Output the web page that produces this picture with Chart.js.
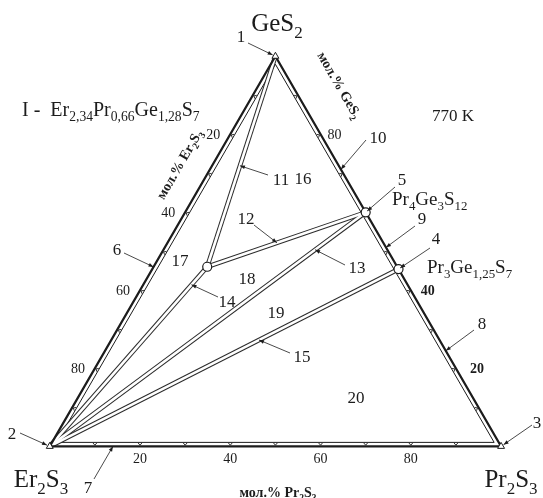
<!DOCTYPE html>
<html>
<head>
<meta charset="utf-8">
<script src="https://cdn.jsdelivr.net/npm/chart.js@4/dist/chart.umd.min.js"></script>
<style>
  html, body { margin: 0; padding: 0; background: #fff; }
  canvas { display: block; }
</style>
</head>
<body>
<canvas id="c" width="543" height="498"></canvas>
<script>
// Er2S3 – Pr2S3 – GeS2 isothermal section at 770 K (mole fractions)
const phaseNames = ['GeS2', 'Er2S3', 'Pr2S3', 'Pr4Ge3S12', 'Pr3Ge1,25S7', 'I'];
const molEr2S3 = [0, 1, 0, 0,   0,      0.4209];
const molPr2S3 = [0, 0, 1, 0.4, 0.5455, 0.1187];
const molGeS2  = [1, 0, 0, 0.6, 0.4545, 0.4604];

// tie lines as pairs of phase indices
const tieFrom = [0, 5, 1, 1, 1];
const tieTo   = [5, 3, 3, 5, 4];

// grid marks every 10 mol.% on each side, labelled values
const gridMarks    = [10, 20, 30, 40, 50, 60, 70, 80, 90];
const erTickLabels = [20, 40, 60, 80];
const geTickLabels = [80, 40, 20];
const prTickLabels = [20, 40, 60, 80];

// ternary -> cartesian (unit-side equilateral triangle)
const S3 = Math.sqrt(3) / 2;
const tx = (pr, ge) => pr + ge / 2;
const ty = ge => ge * S3;
const phasePt = i => ({ x: tx(molPr2S3[i], molGeS2[i]), y: ty(molGeS2[i]) });

const INK = '#1c1c1c';
const SERIF = '"Liberation Serif", "Times New Roman", serif';

const datasets = [];
// outer boundary of the triangle
datasets.push({
  data: [phasePt(1), phasePt(2), phasePt(0), phasePt(1)],
  showLine: true, borderColor: INK, borderWidth: 2.2, pointRadius: 0, order: 2
});
// tie lines, drawn as double lines (dark stroke with a white core)
tieFrom.forEach((a, k) => {
  const d = [phasePt(a), phasePt(tieTo[k])];
  datasets.push({ data: d, showLine: true, borderColor: '#2b2b2b', borderWidth: 4.6, pointRadius: 0, order: 5 });
  datasets.push({ data: d, showLine: true, borderColor: '#ffffff', borderWidth: 2.6, pointRadius: 0, order: 4 });
});
// binary end members
datasets.push({
  data: [phasePt(0), phasePt(1), phasePt(2)],
  showLine: false, pointStyle: 'triangle', pointRadius: 4,
  backgroundColor: '#fff', borderColor: INK, borderWidth: 1, order: 0
});
// ternary / binary compounds
datasets.push({
  data: [phasePt(3), phasePt(4), phasePt(5)],
  showLine: false, pointStyle: 'circle', pointRadius: 4.5,
  backgroundColor: '#fff', borderColor: INK, borderWidth: 1.2, order: 0
});

// text helpers: digits following a letter are set as subscripts
function splitRuns(text) {
  const runs = [];
  let i = 0;
  const isSubStart = j => /[0-9]/.test(text[j]) && j > 0 && /[A-Za-z]/.test(text[j - 1]);
  while (i < text.length) {
    if (isSubStart(i)) {
      let j = i;
      while (j < text.length && (/[0-9]/.test(text[j]) || (text[j] === ',' && /[0-9]/.test(text[j + 1] || '')))) j++;
      runs.push({ t: text.slice(i, j), sub: true });
      i = j;
    } else {
      let j = i + 1;
      while (j < text.length && !isSubStart(j)) j++;
      runs.push({ t: text.slice(i, j), sub: false });
      i = j;
    }
  }
  return runs;
}
function drawRich(ctx, text, x, y, size, align, weight) {
  const runs = splitRuns(text);
  const w = weight || 'normal';
  const subSize = size * 0.68;
  let total = 0;
  runs.forEach(r => {
    ctx.font = `${w} ${r.sub ? subSize : size}px ${SERIF}`;
    r.w = ctx.measureText(r.t).width;
    total += r.w;
  });
  let cx = align === 'center' ? x - total / 2 : align === 'right' ? x - total : x;
  ctx.textAlign = 'left';
  ctx.textBaseline = 'alphabetic';
  runs.forEach(r => {
    ctx.font = `${w} ${r.sub ? subSize : size}px ${SERIF}`;
    ctx.fillText(r.t, cx, r.sub ? y + size * 0.26 : y);
    cx += r.w;
  });
}

// callouts: label centre, leader start, and what the leader points at
const callouts = [
  { n: '1',  lx: 241, ly: 36,  sx: 248, sy: 43,  phase: 0, gap: 3 },
  { n: '2',  lx: 12,  ly: 433, sx: 20,  sy: 433, phase: 1, gap: 3 },
  { n: '3',  lx: 537, ly: 422, sx: 532, sy: 425, phase: 2, gap: 3 },
  { n: '4',  lx: 436, ly: 238, sx: 430, sy: 248, phase: 4, gap: 2 },
  { n: '5',  lx: 402, ly: 179, sx: 395, sy: 187, phase: 3, gap: 2 },
  { n: '6',  lx: 117, ly: 249, sx: 124, sy: 253, seg: [1, 0], t: 0.46 },
  { n: '7',  lx: 88,  ly: 487, sx: 94,  sy: 479, seg: [1, 2], t: 0.14 },
  { n: '8',  lx: 482, ly: 323, sx: 474, sy: 330, seg: [2, 0], t: 0.245 },
  { n: '9',  lx: 422, ly: 218, sx: 415, sy: 226, seg: [2, 0], t: 0.51 },
  { n: '10', lx: 378, ly: 137, sx: 366, sy: 140, seg: [2, 0], t: 0.71 },
  { n: '11', lx: 281, ly: 179, sx: 268, sy: 175, seg: [0, 5], t: 0.52 },
  { n: '12', lx: 246, ly: 218, sx: 254, sy: 225, seg: [5, 3], t: 0.44 },
  { n: '13', lx: 357, ly: 267, sx: 345, sy: 265, seg: [1, 3], t: 0.84 },
  { n: '14', lx: 227, ly: 301, sx: 218, sy: 297, seg: [1, 5], t: 0.90 },
  { n: '15', lx: 302, ly: 356, sx: 290, sy: 353, seg: [1, 4], t: 0.60 }
];
const fieldLabels = [
  { n: '16', x: 303, y: 178 }, { n: '17', x: 180, y: 260 }, { n: '18', x: 247, y: 278 },
  { n: '19', x: 276, y: 312 }, { n: '20', x: 356, y: 397 }
];

const overlay = {
  id: 'overlay',
  beforeDatasetsDraw(chart) {
    const ctx = chart.ctx;
    const xs = chart.scales.x, ys = chart.scales.y;
    const P = p => [xs.getPixelForValue(p.x), ys.getPixelForValue(p.y)];
    const A = P(phasePt(1)), B = P(phasePt(2)), C = P(phasePt(0));
    const G = [(A[0] + B[0] + C[0]) / 3, (A[1] + B[1] + C[1]) / 3];
    const R = Math.hypot(A[0] - G[0], A[1] - G[1]);
    const inset = 4, k = (R / 2 - inset) / (R / 2);
    const inner = [A, B, C].map(v => [G[0] + (v[0] - G[0]) * k, G[1] + (v[1] - G[1]) * k]);
    ctx.save();
    ctx.strokeStyle = INK;
    ctx.lineWidth = 1;
    ctx.beginPath();
    ctx.moveTo(inner[0][0], inner[0][1]);
    ctx.lineTo(inner[1][0], inner[1][1]);
    ctx.lineTo(inner[2][0], inner[2][1]);
    ctx.closePath();
    ctx.stroke();
    // small chevrons between the two boundary lines
    const edges = [[A, C], [A, B], [B, C]];
    ctx.lineWidth = 0.9;
    edges.forEach(([p, q]) => {
      const L = Math.hypot(q[0] - p[0], q[1] - p[1]);
      const t = [(q[0] - p[0]) / L, (q[1] - p[1]) / L];
      let n = [-t[1], t[0]];
      const mid = [(p[0] + q[0]) / 2, (p[1] + q[1]) / 2];
      if ((G[0] - mid[0]) * n[0] + (G[1] - mid[1]) * n[1] < 0) n = [-n[0], -n[1]];
      gridMarks.forEach(m => {
        const f = m / 100;
        const b = [p[0] + (q[0] - p[0]) * f, p[1] + (q[1] - p[1]) * f];
        const tip = [b[0] + n[0] * 1.2, b[1] + n[1] * 1.2];
        const a1 = [b[0] + n[0] * 3.4 + t[0] * 1.9, b[1] + n[1] * 3.4 + t[1] * 1.9];
        const a2 = [b[0] + n[0] * 3.4 - t[0] * 1.9, b[1] + n[1] * 3.4 - t[1] * 1.9];
        ctx.beginPath();
        ctx.moveTo(a1[0], a1[1]); ctx.lineTo(tip[0], tip[1]); ctx.lineTo(a2[0], a2[1]);
        ctx.stroke();
      });
    });
    ctx.restore();
  },
  afterDatasetsDraw(chart) {
    const ctx = chart.ctx;
    const xs = chart.scales.x, ys = chart.scales.y;
    const P = p => [xs.getPixelForValue(p.x), ys.getPixelForValue(p.y)];
    const comp = (pr, ge) => P({ x: tx(pr, ge), y: ty(ge) });
    ctx.save();
    ctx.fillStyle = INK;
    ctx.strokeStyle = INK;

    // leaders with arrowheads
    callouts.forEach(c => {
      let tgt;
      if (c.phase !== undefined) {
        tgt = P(phasePt(c.phase));
      } else {
        const a = P(phasePt(c.seg[0])), b = P(phasePt(c.seg[1]));
        tgt = [a[0] + (b[0] - a[0]) * c.t, a[1] + (b[1] - a[1]) * c.t];
      }
      const dx = tgt[0] - c.sx, dy = tgt[1] - c.sy;
      const L = Math.hypot(dx, dy);
      const ux = dx / L, uy = dy / L;
      const g = c.gap || 0;
      const ex = tgt[0] - ux * g, ey = tgt[1] - uy * g;
      ctx.lineWidth = 0.8;
      ctx.beginPath();
      ctx.moveTo(c.sx, c.sy);
      ctx.lineTo(ex, ey);
      ctx.stroke();
      ctx.beginPath();
      ctx.moveTo(ex, ey);
      ctx.lineTo(ex - ux * 5 - uy * 1.9, ey - uy * 5 + ux * 1.9);
      ctx.lineTo(ex - ux * 5 + uy * 1.9, ey - uy * 5 - ux * 1.9);
      ctx.closePath();
      ctx.fill();
      drawRich(ctx, c.n, c.lx, c.ly + 6, 17, 'center');
    });
    fieldLabels.forEach(f => drawRich(ctx, f.n, f.x, f.y + 6, 17, 'center'));

    // tick labels along the sides
    erTickLabels.forEach(v => {
      const p = comp(0, 1 - v / 100);
      drawRich(ctx, String(v), p[0] - 17, p[1] + 5, 14, 'center');
    });
    const geDx = [14, 17, 21];
    const geBold = ['normal', 'bold', 'bold'];
    geTickLabels.forEach((v, i) => {
      const p = comp(1 - v / 100, v / 100);
      drawRich(ctx, String(v), p[0] + geDx[i], p[1] + 5, 14, 'center', geBold[i]);
    });
    prTickLabels.forEach(v => {
      const p = comp(v / 100, 0);
      drawRich(ctx, String(v), p[0], p[1] + 17, 14, 'center');
    });

    // component names and compounds
    drawRich(ctx, 'GeS2', 277, 31, 25, 'center');
    drawRich(ctx, 'Er2S3', 41, 487, 25, 'center');
    drawRich(ctx, 'Pr2S3', 511, 487, 25, 'center');
    drawRich(ctx, 'Pr4Ge3S12', 392, 205, 19, 'left');
    drawRich(ctx, 'Pr3Ge1,25S7', 427, 273, 19, 'left');
    drawRich(ctx, 'I -  Er2,34Pr0,66Ge1,28S7', 22, 116, 20, 'left');
    drawRich(ctx, '770 K', 453, 121, 17, 'center');

    // axis titles
    drawRich(ctx, 'мол.% Pr2S3', 278, 497, 14, 'center', 'bold');
    ctx.save();
    ctx.translate(179, 164);
    ctx.rotate(-Math.PI / 3);
    drawRich(ctx, 'мол.% Er2S3', 0, 5, 14, 'center', 'bold');
    ctx.restore();
    ctx.save();
    ctx.translate(340, 85);
    ctx.rotate(Math.PI / 3);
    drawRich(ctx, 'мол.% GeS2', 0, 5, 14, 'center', 'bold');
    ctx.restore();

    ctx.restore();
  }
};

new Chart(document.getElementById('c'), {
  type: 'scatter',
  data: { datasets },
  options: {
    responsive: false,
    animation: false,
    devicePixelRatio: 1,
    layout: { padding: 0 },
    plugins: { legend: { display: false }, tooltip: { enabled: false } },
    scales: {
      x: { type: 'linear', min: -45 / 461, max: 498 / 461, display: false },
      y: { type: 'linear', min: -47 / 461, max: 451 / 461, display: false }
    }
  },
  plugins: [overlay]
});
</script>
</body>
</html>
